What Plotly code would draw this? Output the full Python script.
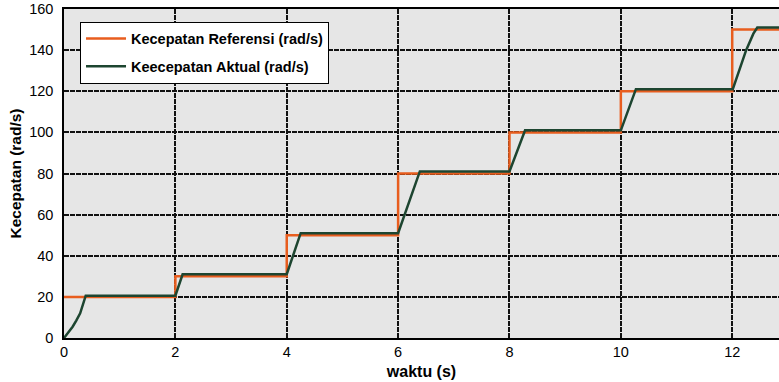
import plotly.graph_objects as go

# Reference speed set-points (step changes every 2 s)
ref_t = [0, 2, 2, 4, 4, 6, 6, 8, 8, 10, 10, 12, 12, 12.84]
ref_v = [20, 20, 30, 30, 50, 50, 80, 80, 100, 100, 120, 120, 150, 150]

# Measured motor speed response
act_t = [0, 0.07, 0.155, 0.22, 0.29, 0.39, 2.0, 2.13, 4.0, 4.25, 6.0, 6.39,
         8.0, 8.28, 10.0, 10.27, 12.01, 12.25, 12.38, 12.45, 12.84]
act_v = [0, 2.5, 5.5, 8.5, 12, 20.6, 20.6, 31, 31, 51, 51, 81,
         81, 101, 101, 121, 121, 140, 148, 151, 151]

x_ticks = [0, 2, 4, 6, 8, 10, 12]
y_ticks = [0, 20, 40, 60, 80, 100, 120, 140, 160]

FONT = "Liberation Sans, Arial, sans-serif"

fig = go.Figure()
fig.add_trace(go.Scatter(
    x=ref_t, y=ref_v, mode="lines", name="Kecepatan Referensi (rad/s)",
    line=dict(color="#e85d1e", width=2.5), legendgroup="a"))
fig.add_trace(go.Scatter(
    x=act_t, y=act_v, mode="lines", name="Keecepatan Aktual (rad/s)",
    line=dict(color="#1d4530", width=2.5), legendgroup="b"))

axis_common = dict(
    showline=True, linecolor="black", linewidth=1.5,
    showgrid=True, gridcolor="#111111", gridwidth=1.8, griddash="5px,1px",
    zeroline=False, ticks="",
    tickfont=dict(family=FONT, size=14.5, color="black"),
)

fig.update_xaxes(range=[0, 12.84], tickvals=x_ticks, mirror=True,
                 title=dict(text="<b>waktu (s)</b>", standoff=7,
                            font=dict(family=FONT, size=16, color="black")),
                 **axis_common)
fig.update_yaxes(range=[0, 160], tickvals=y_ticks, ticklabelstandoff=6,
                 title=dict(text="<b>Kecepatan (rad/s)</b>", standoff=4,
                            font=dict(family=FONT, size=15.5, color="black")),
                 **axis_common)

fig.update_layout(
    width=779, height=382,
    margin=dict(l=64, r=0, t=9, b=44),
    plot_bgcolor="#e6e6e6", paper_bgcolor="white",
    legend=dict(x=0.0224, y=0.962, xanchor="left", yanchor="top",
                bgcolor="white", bordercolor="black", borderwidth=1,
                font=dict(family=FONT, size=14.5, color="black", weight="bold"),
                tracegroupgap=6, itemwidth=40),
    showlegend=True,
)

fig.write_html("out.html")
